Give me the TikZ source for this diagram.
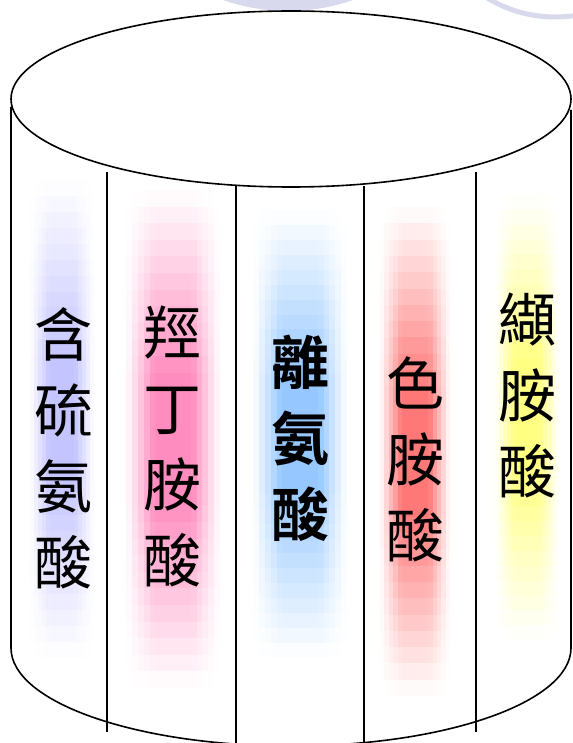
\documentclass[tikz,border=0pt]{standalone}
\usepackage{fontspec}
\usepackage{xcolor}
\usepackage{tikz}
\newfontfamily\cjk[BoldFont={Noto Sans CJK TC Bold}]{Noto Sans CJK TC}
\definecolor{lav}{RGB}{217,217,238}
\definecolor{metcol}{RGB}{196,196,255}
\definecolor{thrcol}{RGB}{255,140,190}
\definecolor{lyscol}{RGB}{150,200,255}
\definecolor{trpcol}{RGB}{255,120,120}
\definecolor{valcol}{RGB}{255,255,130}
\tikzset{
	acid/.style={font=\cjk\fontsize{58}{76}\selectfont, align=center, inner sep=0pt},
	rim/.style={line width=1.6pt},
}

\begin{document}
\begin{tikzpicture}[x=1pt, y=-1pt]
	\useasboundingbox (0,0) rectangle (572,743);
	\fill[lav] (288,-186) circle (197);
	\draw[lav, line width=5pt] (555,-113) circle (130);
	\foreach \cx/\hw/\yt/\yb/\col in {62/32/180/658/metcol, 173/47/190/688/thrcol, 300/47/210/658/lyscol, 415/35/207/696/trpcol, 527/32/195/640/valcol}
		\foreach \j in {0,...,29}
			\foreach \i in {0,...,15} {
				\pgfmathsetmacro\u{abs((\i+0.5)/8-1)}
				\pgfmathsetmacro\v{abs((\j+0.5)/15-1)}
				\pgfmathtruncatemacro\p{100*min(1,(1-\u)/0.6)*min(1,(1-\v)/0.75)}
				\pgfmathsetmacro\dh{(\yb-\yt)/30}
				\pgfmathsetmacro\xa{\cx-\hw+\i*\hw/8}
				\pgfmathsetmacro\ya{\yt+\j*\dh}
				\fill[fill=\col!\p!white] (\xa,\ya) rectangle +({\hw/8+0.4},{\dh+0.4});
			}
	\draw[rim] (11,107) -- (11,648) arc[start angle=180, end angle=0, x radius=280, y radius=98] -- (571,110);
	\draw[rim, fill=white] (291,99) ellipse[x radius=280, y radius=88];
	\draw[rim] (107,172) -- (107,732);
	\draw[rim] (236,186) -- (236,743);
	\draw[rim] (364,186) -- (364,743);
	\draw[rim] (476,172) -- (476,732);
	\node[acid] (met) at (63,448) {含\\硫\\氨\\酸};
	\node[acid] (thr) at (172,446) {羥\\丁\\胺\\酸};
	\node[acid, font=\cjk\bfseries\fontsize{58}{76}\selectfont] (lys) at (300,438) {離\\氨\\酸};
	\node[acid] (trp) at (415,459) {色\\胺\\酸};
	\node[acid] (val) at (527,395) {纈\\胺\\酸};
\end{tikzpicture}
\end{document}
